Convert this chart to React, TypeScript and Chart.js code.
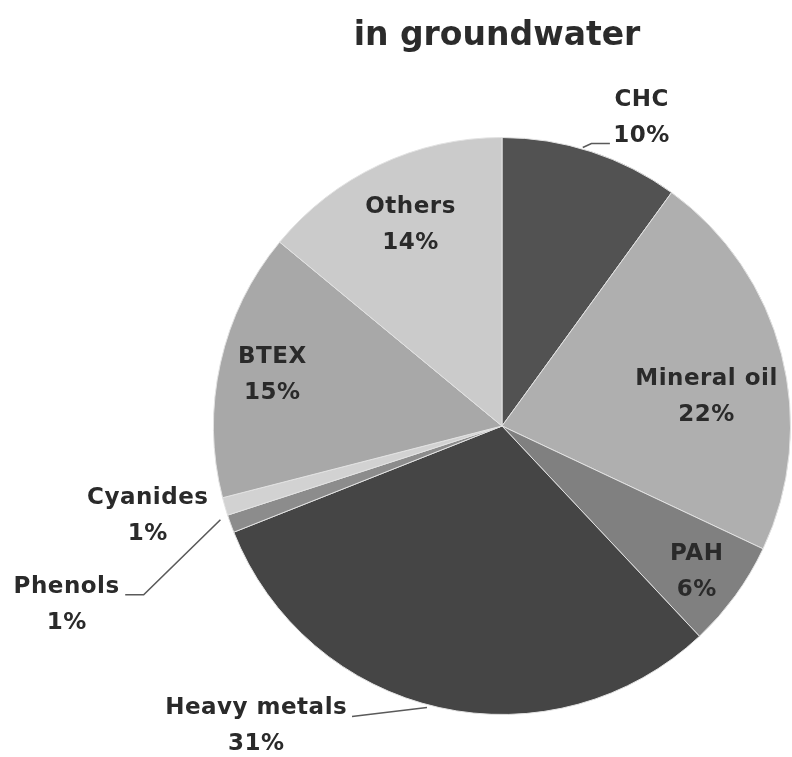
import React, { useEffect, useRef } from "react";
import { Chart, registerables } from "chart.js";

Chart.register(...registerables);

const categories = ["CHC", "Mineral oil", "PAH", "Heavy metals", "Phenols", "Cyanides", "BTEX", "Others"];
const shares = [10, 22, 6, 31, 1, 1, 15, 14];
const sliceColors = ["#525252", "#afafaf", "#808080", "#454545", "#8c8c8c", "#d2d2d2", "#a8a8a8", "#cbcbcb"];
const titleText = "in groundwater";

// label centres, in units of the pie radius relative to the pie centre
const labelOffsets: [number, number][] = [
  [0.484, -1.066],
  [0.709, -0.099],
  [0.675, 0.505],
  [-0.852, 1.04],
  [-1.509, 0.619],
  [-1.228, 0.311],
  [-0.796, -0.176],
  [-0.317, -0.696],
];

// leader lines, in radius units relative to the pie centre
const leaders: [number, number][][] = [
  [[0.28, -0.965], [0.31, -0.979], [0.374, -0.979]],
  [[-0.26, 0.976], [-0.52, 1.007]],
  [[-0.976, 0.325], [-1.242, 0.585], [-1.306, 0.585]],
];

const FONT = '"DejaVu Sans", sans-serif';

const labelPlugin = {
  id: "pieLabels",
  afterDraw(chart: any) {
    const ctx = chart.ctx;
    const meta = chart.getDatasetMeta(0);
    if (!meta.data.length) return;
    const arc0 = meta.data[0].getProps(["x", "y", "outerRadius"], true);
    const cx = arc0.x;
    const cy = arc0.y;
    const r = arc0.outerRadius;
    ctx.save();
    // title
    ctx.fillStyle = "#2b2b2b";
    ctx.font = `bold 33px ${FONT}`;
    ctx.textAlign = "center";
    ctx.textBaseline = "middle";
    ctx.fillText(titleText, cx - 5, 36);

    // leader lines
    ctx.strokeStyle = "#5a5a5a";
    ctx.lineWidth = 1.6;
    leaders.forEach((pts) => {
      ctx.beginPath();
      pts.forEach(([px, py], i) => {
        const X = cx + px * r;
        const Y = cy + py * r;
        if (i === 0) ctx.moveTo(X, Y);
        else ctx.lineTo(X, Y);
      });
      ctx.stroke();
    });

    // labels
    ctx.font = `bold 23px ${FONT}`;
    try {
      (ctx as any).letterSpacing = "0.5px";
    } catch (e) {}
    ctx.fillStyle = "#2a2a2a";
    categories.forEach((name, i) => {
      const [ox, oy] = labelOffsets[i];
      const X = cx + ox * r;
      const Y = cy + oy * r;
      ctx.fillText(name, X, Y - 18);
      ctx.fillText(`${shares[i]}%`, X, Y + 18);
    });
    ctx.restore();
  },
};

export default function App() {
  const canvasRef = useRef<HTMLCanvasElement | null>(null);
  useEffect(() => {
    if (!canvasRef.current) return;
    const chart = new Chart(canvasRef.current, {
      type: "pie",
      data: {
        labels: categories,
        datasets: [
          {
            data: shares,
            backgroundColor: sliceColors,
            borderColor: "#e2e2e2",
            borderWidth: 1,
          },
        ],
      },
      options: {
        responsive: false,
        animation: false,
        layout: { padding: { top: 137, left: 213, right: 1, bottom: 42 } },
        plugins: {
          legend: { display: false },
          tooltip: { enabled: false },
          title: { display: false },
        },
      },
      plugins: [labelPlugin],
    });
    return () => chart.destroy();
  }, []);
  return (
    <div style={{ position: "absolute", left: 0, top: 0, width: 792, height: 757, background: "#fff" }}>
      <canvas ref={canvasRef} width={792} height={757} style={{ display: "block" }} />
    </div>
  );
}
